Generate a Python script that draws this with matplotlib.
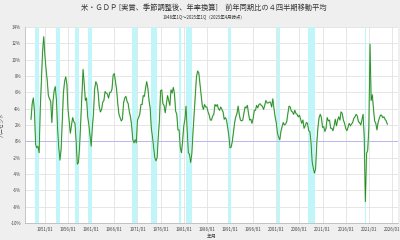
'''
US real GDP, year-on-year change (4 quarter moving average), 1948Q1 - 2025Q1
with NBER recession periods shaded
'''
import numpy as np
import matplotlib
matplotlib.use('Agg')
import matplotlib.pyplot as plt

plt.rcParams['font.family'] = ['Noto Sans CJK JP', 'DejaVu Sans']

START_YEAR = 1948

# quarterly values, one row per year (Q1..Q4), percent
gdp_yoy = [
    2.7, 4.6, 5.3, 3.7,     # 1948
    -0.4, -0.8, -0.6, -1.4,  # 1949
    4.0, 7.5, 11.0, 12.8,   # 1950
    10.5, 8.8, 7.5, 5.6,    # 1951
    5.2, 4.9, 2.3, 4.9,     # 1952
    6.2, 6.7, 5.0, 1.5,     # 1953
    -0.8, -2.3, -1.0, 2.3,  # 1954
    5.9, 7.3, 7.9, 7.0,     # 1955
    3.9, 2.5, 1.0, 2.0,     # 1956
    2.9, 2.4, 2.2, 0.0,     # 1957
    -2.8, -2.6, -0.6, 2.6,  # 1958
    6.0, 8.8, 7.0, 5.0,     # 1959
    5.3, 3.0, 2.0, 0.7,     # 1960
    -0.6, 1.7, 3.4, 6.4,    # 1961
    7.3, 7.0, 6.0, 4.2,     # 1962
    3.6, 3.9, 4.8, 5.0,     # 1963
    6.1, 5.9, 5.8, 5.3,     # 1964
    6.0, 6.0, 6.4, 8.1,     # 1965
    8.3, 7.3, 6.3, 4.6,     # 1966
    3.3, 2.9, 2.5, 2.7,     # 1967
    4.7, 5.3, 5.5, 4.9,     # 1968
    4.6, 3.6, 3.0, 1.9,     # 1969
    0.2, -0.2, 0.2, -0.2,   # 1970
    2.6, 2.9, 3.3, 4.5,     # 1971
    4.5, 5.6, 5.5, 6.5,     # 1972
    7.3, 6.5, 5.0, 4.1,     # 1973
    1.6, 0.5, -0.8, -2.0,   # 1974
    -2.4, -2.0, 0.6, 2.6,   # 1975
    6.2, 6.3, 4.6, 4.4,     # 1976
    3.5, 4.6, 5.6, 5.0,     # 1977
    4.4, 6.3, 5.9, 6.6,     # 1978
    5.8, 3.7, 3.3, 1.4,     # 1979
    1.4, -0.8, -1.4, 0.0,   # 1980
    1.8, 2.7, 4.3, 1.3,     # 1981
    -1.4, -1.6, -2.6, -1.5,  # 1982
    1.1, 3.4, 5.9, 7.9,     # 1983
    8.6, 8.4, 7.1, 5.7,     # 1984
    4.4, 3.9, 4.5, 4.2,     # 1985
    4.2, 3.6, 3.2, 2.6,     # 1986
    2.6, 3.1, 3.3, 4.5,     # 1987
    4.3, 4.5, 4.0, 3.8,     # 1988
    4.2, 3.9, 3.6, 2.7,     # 1989
    2.9, 2.6, 1.7, 0.7,     # 1990
    -0.8, -0.7, 0.0, 1.1,   # 1991
    2.3, 3.0, 3.4, 4.3,     # 1992
    3.3, 2.6, 2.5, 2.6,     # 1993
    3.4, 4.2, 4.1, 4.4,     # 1994
    3.4, 2.6, 2.7, 2.2,     # 1995
    2.8, 3.8, 3.8, 4.4,     # 1996
    4.1, 4.5, 4.6, 4.4,     # 1997
    4.3, 3.9, 4.4, 5.0,     # 1998
    4.7, 4.7, 4.8, 4.8,     # 1999
    4.2, 5.2, 4.0, 3.0,     # 2000
    2.3, 1.0, 0.5, 0.2,     # 2001
    1.2, 1.8, 2.3, 2.0,     # 2002
    2.1, 2.4, 3.4, 4.3,     # 2003
    4.2, 3.7, 3.6, 3.3,     # 2004
    3.8, 3.4, 3.3, 3.0,     # 2005
    3.2, 2.7, 2.2, 2.6,     # 2006
    1.6, 1.9, 2.3, 2.2,     # 2007
    1.3, 1.2, -0.1, -2.5,   # 2008
    -3.3, -3.9, -3.3, -0.2,  # 2009
    1.7, 2.9, 3.3, 2.9,     # 2010
    1.7, 1.8, 1.2, 1.6,     # 2011
    2.9, 2.5, 2.6, 1.6,     # 2012
    1.6, 1.3, 1.9, 2.7,     # 2013
    1.9, 2.6, 3.0, 2.6,     # 2014
    3.6, 3.4, 2.6, 2.2,     # 2015
    1.6, 1.3, 1.7, 2.2,     # 2016
    1.9, 2.1, 2.3, 2.8,     # 2017
    3.0, 3.3, 3.1, 2.4,     # 2018
    2.3, 2.0, 2.6, 3.3,     # 2019
    0.6, -7.4, -1.5, -1.1,  # 2020
    1.6, 11.9, 5.0, 5.7,    # 2021
    4.0, 2.5, 2.2, 1.4,     # 2022
    2.3, 2.8, 3.2, 3.2,     # 2023
    2.9, 3.0, 2.7, 2.5,     # 2024
    2.1,                    # 2025
]

# NBER recessions (decimal years, peak -> trough)
recession_start = [1948.83, 1953.5, 1957.6, 1960.25, 1969.92, 1973.83,
                   1980.0, 1981.5, 1990.5, 2001.17, 2007.92, 2020.08]
recession_end = [1949.75, 1954.33, 1958.33, 1961.08, 1970.83, 1975.17,
                 1980.5, 1982.83, 1991.17, 2001.83, 2009.42, 2020.33]

xtick_years = list(range(1951, 2027, 5))
xtick_labels = [str(y) + '/01' for y in xtick_years]
ytick_values = list(range(-10, 16, 2))
ytick_labels = [str(v) + '%' for v in ytick_values]

TITLE = '米・ＧＤＰ [実質、季節調整後、年率換算]　前年同期比の４四半期移動平均'
SUBTITLE = '1948年1Q～2025年1Q（2025年4月時点）'


def draw(save_name):
    fig = plt.figure(figsize=(4, 2.4), dpi=100, facecolor='#efefef')
    ax = fig.add_axes([0.0625, 0.071, 0.9325, 0.8165])
    ax.set_facecolor('white')

    x = START_YEAR + np.arange(len(gdp_yoy)) / 4.0

    # recession shading
    for s, e in zip(recession_start, recession_end):
        ax.axvspan(s, e, color='#c0f6fa', lw=0, zorder=1)

    ax.axhline(0, color='#b8b8f0', lw=0.7, zorder=2)
    # light halo under the green line
    ax.plot(x, gdp_yoy, color='#c4e4c4', lw=1.2, zorder=3)
    ax.plot(x, gdp_yoy, color='#1e8a1e', lw=0.6, zorder=4)

    ax.set_xlim(1946.7, 2027.3)
    ax.set_ylim(-10, 14)
    ax.set_xticks(xtick_years)
    ax.set_xticklabels(xtick_labels)
    ax.set_yticks(ytick_values)
    ax.set_yticklabels(ytick_labels)
    ax.grid(True, color='#e2e2e2', lw=0.6, zorder=0)
    ax.set_axisbelow(True)
    ax.tick_params(axis='both', length=0, labelsize=3.2, colors='#444444', pad=3)

    for side in ['top', 'right']:
        ax.spines[side].set_visible(False)
    ax.spines['left'].set_color('#bbbbbb')
    ax.spines['bottom'].set_color('#bbbbbb')
    ax.spines['left'].set_linewidth(0.6)
    ax.spines['bottom'].set_linewidth(0.6)

    ax.set_ylabel('パーセント', fontsize=3.6, color='#444444', labelpad=4)
    ax.set_xlabel('年月', fontsize=3.6, color='#444444', labelpad=1.5)

    fig.text(0.51, 0.965, TITLE, ha='center', va='center', fontsize=5.2, color='#333333')
    fig.text(0.51, 0.925, SUBTITLE, ha='center', va='center', fontsize=3.2, color='#333333')

    fig.savefig(save_name, dpi=100, facecolor=fig.get_facecolor())


def main():
    draw('out.png')


if __name__ == "__main__":
    main()
